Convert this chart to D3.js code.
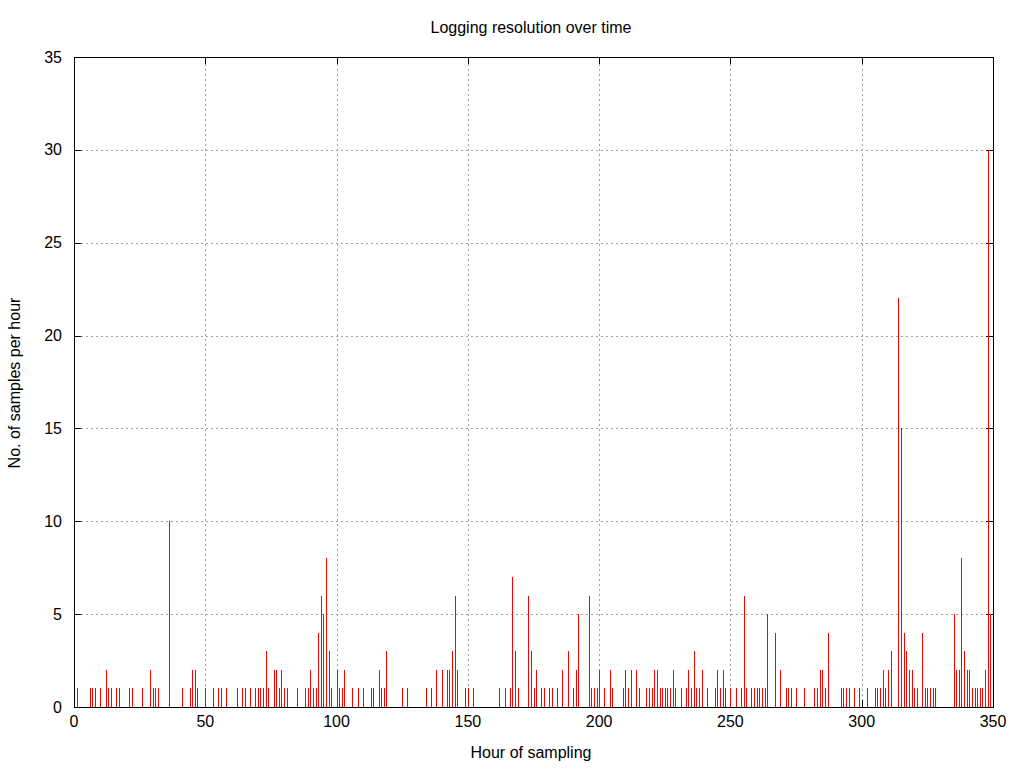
<!DOCTYPE html>
<html>
<head>
<meta charset="utf-8">
<script src="https://cdn.jsdelivr.net/npm/d3@7"></script>
<style>
  html, body { margin: 0; padding: 0; background: #fff; }
  svg { display: block; }
  text { font-family: "Liberation Sans", Arial, sans-serif; fill: #000; }
</style>
</head>
<body>
<svg id="chart" width="1024" height="768"></svg>
<script>
// Data: hour of sampling and number of samples in that hour
const hours = [
  1,6,7,8,10,12,13,14,16,17,21,22,26,29,30,31,32,36,41,44,45,46,47,50,53,55,56,58,
  62,64,65,67,69,70,71,72,73,74,76,77,78,79,80,81,85,88,89,90,91,92,93,94,95,96,97,98,
  100,101,102,103,106,108,110,113,114,116,117,118,
  119,125,127,134,136,138,140,142,143,144,145,146,149,150,152,162,164,166,167,168,169,
  173,174,175,176,
  178,179,181,182,184,186,188,190,191,192,196,197,198,199,200,202,204,205,209,210,211,
  212,214,215,218,219,220,221,222,223,224,225,226,227,228,229,231,233,234,235,236,
  237,238,239,241,244,245,246,247,248,250,252,254,255,256,258,259,260,261,262,263,264,
  267,269,271,272,273,275,278,282,283,284,285,286,287,292,293,294,295,
  297,299,302,305,306,307,308,309,310,311,314,315,316,317,318,319,320,321,323,324,325,
  326,327,328,335,336,337,338,339,340,341,342,343,344,345,346,347,348,349
];
const samples = [
  1,1,1,1,1,2,1,1,1,1,1,1,1,2,1,1,1,10,1,1,2,2,1,1,1,1,1,1,
  1,1,1,1,1,1,1,1,3,1,2,2,1,2,1,1,1,1,1,2,1,1,4,6,5,8,3,1,
  2,1,1,2,1,1,1,1,1,2,1,1,
  3,1,1,1,1,2,2,2,2,3,6,2,1,1,1,1,1,1,7,3,1,
  6,3,1,2,
  1,1,1,1,1,2,3,1,2,5,6,1,1,1,2,1,2,1,1,2,1,
  2,2,1,1,1,1,2,2,1,1,1,1,1,2,1,1,1,2,1,3,
  1,1,2,1,1,2,1,2,1,1,1,1,6,1,1,1,1,1,1,1,5,
  4,2,1,1,1,1,1,1,1,2,2,1,4,1,1,1,1,
  1,1,1,1,1,1,2,1,2,3,22,15,4,3,2,2,1,1,4,1,1,
  1,1,1,5,2,2,8,3,2,2,1,1,1,1,1,2,30,5
];
const xTickValues = [0, 50, 100, 150, 200, 250, 300, 350];
const yTickValues = [0, 5, 10, 15, 20, 25, 30, 35];
const titleText = "Logging resolution over time";
const xLabelText = "Hour of sampling";
const yLabelText = "No. of samples per hour";

const svg = d3.select("#chart");
const L = 74, R = 993, T = 57, B = 707;

const x = d3.scaleLinear().domain([0, 350]).range([L, R]);
const y = d3.scaleLinear().domain([0, 35]).range([B, T]);

const px = v => Math.round(v) + 0.5;
const tickLen = 7;
const fs = "16px";

// Grid
const grid = svg.append("g").attr("stroke", "#a0a0a0").attr("stroke-width", 1)
  .attr("stroke-dasharray", "2,3").attr("shape-rendering", "crispEdges");
grid.selectAll("line.gy").data(yTickValues.filter(v => v > 0 && v < 35)).join("line")
  .attr("x1", L + tickLen).attr("x2", R - tickLen)
  .attr("y1", d => px(y(d))).attr("y2", d => px(y(d)));
grid.selectAll("line.gx").data(xTickValues.filter(v => v > 0 && v < 350)).join("line")
  .attr("x1", d => px(x(d))).attr("x2", d => px(x(d)))
  .attr("y1", T + tickLen).attr("y2", B - tickLen);

// Ticks (mirrored, inward)
const tk = svg.append("g").attr("stroke", "#000").attr("stroke-width", 1).attr("shape-rendering", "crispEdges");
yTickValues.forEach(v => {
  tk.append("line").attr("x1", L).attr("x2", L + tickLen).attr("y1", px(y(v))).attr("y2", px(y(v)));
  tk.append("line").attr("x1", R - tickLen).attr("x2", R).attr("y1", px(y(v))).attr("y2", px(y(v)));
});
xTickValues.forEach(v => {
  tk.append("line").attr("x1", px(x(v))).attr("x2", px(x(v))).attr("y1", B).attr("y2", B - tickLen);
  tk.append("line").attr("x1", px(x(v))).attr("x2", px(x(v))).attr("y1", T).attr("y2", T + tickLen);
});

// Impulses
const data = hours.map((h, i) => ({ h, v: samples[i] }));
svg.append("g").attr("stroke", "#ff0000").attr("stroke-width", 1).attr("shape-rendering", "crispEdges")
  .selectAll("line").data(data).join("line")
  .attr("x1", d => px(x(d.h))).attr("x2", d => px(x(d.h)))
  .attr("y1", y(0)).attr("y2", d => y(d.v));

// Border
svg.append("rect").attr("x", L + 0.5).attr("y", T + 0.5).attr("width", R - L).attr("height", B - T)
  .attr("fill", "none").attr("stroke", "#000").attr("stroke-width", 1).attr("shape-rendering", "crispEdges");

// Tick labels
svg.append("g").selectAll("text").data(yTickValues).join("text")
  .attr("x", 62).attr("y", d => y(d)).attr("dy", "0.35em")
  .attr("text-anchor", "end").style("font-size", fs).text(d => d);
svg.append("g").selectAll("text").data(xTickValues).join("text")
  .attr("x", d => x(d)).attr("y", 721).attr("dy", "0.35em")
  .attr("text-anchor", "middle").style("font-size", fs).text(d => d);

// Titles
svg.append("text").attr("x", 531).attr("y", 27).attr("dy", "0.35em")
  .attr("text-anchor", "middle").style("font-size", fs).text(titleText);
svg.append("text").attr("x", 531).attr("y", 752).attr("dy", "0.35em")
  .attr("text-anchor", "middle").style("font-size", fs).text(xLabelText);
svg.append("text").attr("transform", "translate(14,383) rotate(-90)").attr("dy", "0.35em")
  .attr("text-anchor", "middle").style("font-size", fs).text(yLabelText);
</script>
</body>
</html>
